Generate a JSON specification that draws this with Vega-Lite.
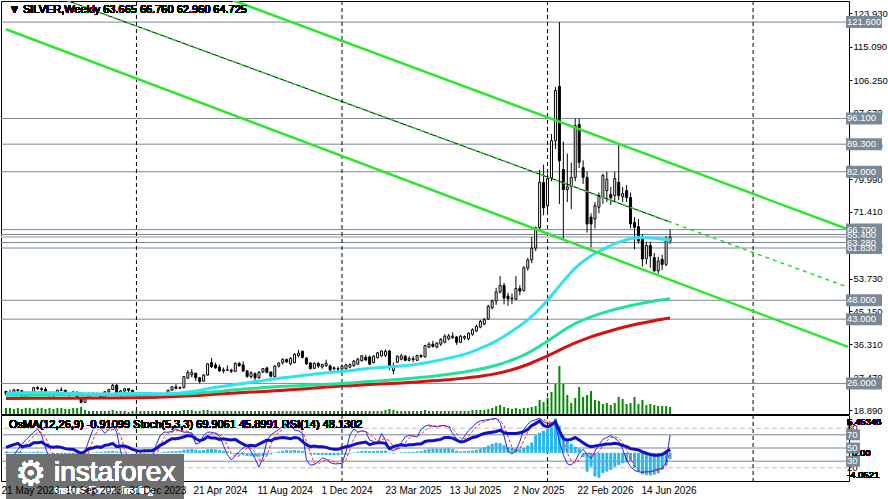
{
  "$schema": "https://vega.github.io/schema/vega-lite/v6.json",
  "background": "white",
  "padding": 0,
  "spacing": 1,
  "bounds": "flush",
  "config": {
    "view": {"stroke": "black", "strokeWidth": 1},
    "font": "Liberation Sans",
    "text": {"font": "Liberation Sans"}
  },
  "datasets": {
    "w": [
      {"d":"2023-05-21","o":23.9,"h":24.0,"l":22.7,"c":23.3,"vol":6,"osma":0.1,"k":40,"sd":45,"rsi":51},
      {"d":"2023-05-28","o":23.3,"h":24.3,"l":22.9,"c":23.6,"vol":6,"osma":0.15,"k":35,"sd":40,"rsi":53},
      {"d":"2023-06-04","o":23.6,"h":24.5,"l":23.2,"c":24.3,"vol":5,"osma":0.2,"k":38,"sd":38,"rsi":55},
      {"d":"2023-06-11","o":24.3,"h":24.5,"l":23.5,"c":24.1,"vol":6,"osma":0.2,"k":48,"sd":40,"rsi":57},
      {"d":"2023-06-18","o":24.1,"h":24.2,"l":22.2,"c":22.6,"vol":5,"osma":0.15,"k":55,"sd":47,"rsi":52},
      {"d":"2023-06-25","o":22.6,"h":23.3,"l":22.1,"c":22.8,"vol":6,"osma":0.1,"k":62,"sd":55,"rsi":53},
      {"d":"2023-07-02","o":22.8,"h":23.3,"l":22.5,"c":23.1,"vol":6,"osma":0.1,"k":68,"sd":62,"rsi":54},
      {"d":"2023-07-09","o":23.1,"h":25.0,"l":22.8,"c":24.9,"vol":5,"osma":0.15,"k":74,"sd":68,"rsi":58},
      {"d":"2023-07-16","o":24.9,"h":25.3,"l":24.3,"c":24.6,"vol":6,"osma":0.2,"k":79,"sd":74,"rsi":58},
      {"d":"2023-07-23","o":24.6,"h":25.0,"l":23.8,"c":24.4,"vol":6,"osma":0.15,"k":70,"sd":74,"rsi":59},
      {"d":"2023-07-30","o":24.4,"h":25.0,"l":23.3,"c":23.6,"vol":5,"osma":0.05,"k":50,"sd":66,"rsi":55},
      {"d":"2023-08-06","o":23.6,"h":23.8,"l":22.6,"c":22.7,"vol":6,"osma":-0.1,"k":35,"sd":52,"rsi":52},
      {"d":"2023-08-13","o":22.7,"h":22.9,"l":22.2,"c":22.8,"vol":5,"osma":-0.2,"k":28,"sd":38,"rsi":51},
      {"d":"2023-08-20","o":22.8,"h":24.3,"l":22.8,"c":24.2,"vol":6,"osma":-0.2,"k":26,"sd":30,"rsi":52},
      {"d":"2023-08-27","o":24.2,"h":25.0,"l":24.0,"c":24.2,"vol":6,"osma":-0.15,"k":38,"sd":31,"rsi":51},
      {"d":"2023-09-03","o":24.2,"h":24.3,"l":22.8,"c":23.0,"vol":5,"osma":-0.2,"k":36,"sd":33,"rsi":49},
      {"d":"2023-09-10","o":23.0,"h":23.2,"l":22.3,"c":23.0,"vol":5,"osma":-0.2,"k":32,"sd":35,"rsi":48},
      {"d":"2023-09-17","o":23.0,"h":24.0,"l":23.0,"c":23.7,"vol":6,"osma":-0.25,"k":24,"sd":31,"rsi":48},
      {"d":"2023-09-24","o":23.7,"h":23.8,"l":22.1,"c":22.3,"vol":6,"osma":-0.3,"k":22,"sd":26,"rsi":45},
      {"d":"2023-10-01","o":22.3,"h":22.4,"l":20.7,"c":21.0,"vol":7,"osma":-0.35,"k":28,"sd":25,"rsi":42},
      {"d":"2023-10-08","o":21.0,"h":22.5,"l":21.0,"c":22.2,"vol":4,"osma":-0.25,"k":45,"sd":32,"rsi":45},
      {"d":"2023-10-15","o":22.2,"h":23.4,"l":21.9,"c":23.4,"vol":3,"osma":-0.1,"k":62,"sd":45,"rsi":49},
      {"d":"2023-10-22","o":23.4,"h":23.5,"l":22.6,"c":22.9,"vol":3,"osma":0.05,"k":78,"sd":62,"rsi":50},
      {"d":"2023-10-29","o":22.9,"h":23.6,"l":22.8,"c":23.3,"vol":3,"osma":0.15,"k":84,"sd":75,"rsi":52},
      {"d":"2023-11-05","o":23.3,"h":23.5,"l":22.0,"c":22.3,"vol":3,"osma":0.15,"k":80,"sd":81,"rsi":51},
      {"d":"2023-11-12","o":22.3,"h":23.9,"l":22.0,"c":23.8,"vol":3,"osma":0.2,"k":72,"sd":79,"rsi":54},
      {"d":"2023-11-19","o":23.8,"h":24.5,"l":23.3,"c":24.4,"vol":3,"osma":0.25,"k":78,"sd":77,"rsi":55},
      {"d":"2023-11-26","o":24.4,"h":25.9,"l":24.3,"c":25.5,"vol":4,"osma":0.3,"k":85,"sd":78,"rsi":57},
      {"d":"2023-12-03","o":25.5,"h":25.9,"l":22.9,"c":23.0,"vol":3,"osma":0.2,"k":74,"sd":79,"rsi":52},
      {"d":"2023-12-10","o":23.0,"h":24.3,"l":22.5,"c":24.0,"vol":3,"osma":0.15,"k":45,"sd":68,"rsi":53},
      {"d":"2023-12-17","o":24.0,"h":24.7,"l":23.6,"c":24.6,"vol":3,"osma":0.1,"k":29,"sd":49,"rsi":53},
      {"d":"2023-12-24","o":24.6,"h":24.6,"l":23.7,"c":24.2,"vol":2,"osma":0.05,"k":28,"sd":34,"rsi":51},
      {"d":"2023-12-31","o":24.2,"h":24.2,"l":22.7,"c":23.0,"vol":3,"osma":-0.05,"k":30,"sd":29,"rsi":48},
      {"d":"2024-01-07","o":23.0,"h":23.4,"l":22.5,"c":23.2,"vol":3,"osma":-0.1,"k":33,"sd":30,"rsi":46},
      {"d":"2024-01-14","o":23.2,"h":23.3,"l":22.2,"c":22.6,"vol":3,"osma":-0.15,"k":28,"sd":30,"rsi":45},
      {"d":"2024-01-21","o":22.6,"h":23.2,"l":22.5,"c":22.8,"vol":3,"osma":-0.15,"k":24,"sd":28,"rsi":46},
      {"d":"2024-01-28","o":22.8,"h":23.3,"l":22.7,"c":22.8,"vol":3,"osma":-0.1,"k":26,"sd":26,"rsi":46},
      {"d":"2024-02-04","o":22.8,"h":22.9,"l":22.0,"c":22.3,"vol":3,"osma":-0.1,"k":34,"sd":28,"rsi":46},
      {"d":"2024-02-11","o":22.3,"h":23.4,"l":21.9,"c":23.4,"vol":3,"osma":-0.05,"k":55,"sd":38,"rsi":49},
      {"d":"2024-02-18","o":23.4,"h":23.5,"l":22.6,"c":23.0,"vol":3,"osma":0.05,"k":69,"sd":53,"rsi":54},
      {"d":"2024-02-25","o":23.0,"h":23.2,"l":22.3,"c":23.3,"vol":3,"osma":0.15,"k":74,"sd":66,"rsi":57},
      {"d":"2024-03-03","o":23.3,"h":24.3,"l":23.1,"c":24.2,"vol":3,"osma":0.2,"k":74,"sd":72,"rsi":61},
      {"d":"2024-03-10","o":24.2,"h":25.3,"l":24.1,"c":25.1,"vol":3,"osma":0.25,"k":75,"sd":74,"rsi":64},
      {"d":"2024-03-17","o":25.1,"h":25.8,"l":24.4,"c":24.7,"vol":3,"osma":0.25,"k":79,"sd":76,"rsi":64},
      {"d":"2024-03-24","o":24.7,"h":25.2,"l":24.5,"c":24.9,"vol":3,"osma":0.3,"k":76,"sd":77,"rsi":65},
      {"d":"2024-03-31","o":24.9,"h":27.9,"l":24.7,"c":27.8,"vol":4,"osma":0.45,"k":74,"sd":76,"rsi":67},
      {"d":"2024-04-07","o":27.4,"h":29.5,"l":27.2,"c":28.9,"vol":4,"osma":0.5,"k":74,"sd":75,"rsi":69},
      {"d":"2024-04-14","o":28.3,"h":29.8,"l":27.6,"c":28.9,"vol":4,"osma":0.55,"k":72,"sd":73,"rsi":68},
      {"d":"2024-04-21","o":28.7,"h":28.8,"l":26.7,"c":27.5,"vol":3,"osma":0.45,"k":56,"sd":67,"rsi":64},
      {"d":"2024-04-28","o":27.5,"h":27.7,"l":26.0,"c":26.5,"vol":3,"osma":0.35,"k":58,"sd":62,"rsi":61},
      {"d":"2024-05-05","o":26.6,"h":28.5,"l":26.4,"c":28.2,"vol":4,"osma":0.4,"k":69,"sd":61,"rsi":63},
      {"d":"2024-05-12","o":28.2,"h":31.4,"l":28.1,"c":31.2,"vol":4,"osma":0.55,"k":74,"sd":67,"rsi":67},
      {"d":"2024-05-19","o":31.5,"h":32.7,"l":30.1,"c":30.4,"vol":3,"osma":0.55,"k":74,"sd":72,"rsi":65},
      {"d":"2024-05-26","o":30.9,"h":31.5,"l":29.9,"c":30.1,"vol":3,"osma":0.5,"k":72,"sd":73,"rsi":65},
      {"d":"2024-06-02","o":30.3,"h":31.0,"l":29.1,"c":29.3,"vol":3,"osma":0.4,"k":68,"sd":71,"rsi":63},
      {"d":"2024-06-09","o":29.3,"h":30.2,"l":28.7,"c":29.6,"vol":3,"osma":0.3,"k":54,"sd":65,"rsi":64},
      {"d":"2024-06-16","o":29.6,"h":30.8,"l":29.3,"c":29.5,"vol":3,"osma":0.2,"k":40,"sd":54,"rsi":63},
      {"d":"2024-06-23","o":29.5,"h":29.9,"l":28.8,"c":29.2,"vol":3,"osma":-0.1,"k":32,"sd":42,"rsi":62},
      {"d":"2024-06-30","o":29.2,"h":31.6,"l":29.0,"c":31.3,"vol":3,"osma":-0.2,"k":38,"sd":37,"rsi":63},
      {"d":"2024-07-07","o":31.3,"h":31.7,"l":30.4,"c":30.7,"vol":3,"osma":-0.25,"k":45,"sd":38,"rsi":59},
      {"d":"2024-07-14","o":30.9,"h":31.8,"l":29.0,"c":29.3,"vol":3,"osma":-0.35,"k":50,"sd":44,"rsi":56},
      {"d":"2024-07-21","o":29.3,"h":29.6,"l":27.5,"c":27.8,"vol":3,"osma":-0.45,"k":54,"sd":50,"rsi":53},
      {"d":"2024-07-28","o":27.8,"h":29.2,"l":27.3,"c":28.8,"vol":3,"osma":-0.5,"k":45,"sd":50,"rsi":54},
      {"d":"2024-08-04","o":28.6,"h":28.9,"l":26.6,"c":27.5,"vol":3,"osma":-0.55,"k":34,"sd":44,"rsi":53},
      {"d":"2024-08-11","o":27.5,"h":29.2,"l":27.2,"c":29.0,"vol":3,"osma":-0.55,"k":21,"sd":33,"rsi":56},
      {"d":"2024-08-18","o":29.0,"h":30.1,"l":28.8,"c":29.9,"vol":3,"osma":-0.45,"k":35,"sd":30,"rsi":59},
      {"d":"2024-08-25","o":30.1,"h":30.4,"l":28.7,"c":28.9,"vol":3,"osma":-0.35,"k":60,"sd":39,"rsi":62},
      {"d":"2024-09-01","o":29.0,"h":29.2,"l":27.6,"c":27.9,"vol":3,"osma":-0.2,"k":70,"sd":55,"rsi":61},
      {"d":"2024-09-08","o":27.8,"h":30.8,"l":27.6,"c":30.6,"vol":3,"osma":0.05,"k":74,"sd":68,"rsi":64},
      {"d":"2024-09-15","o":30.6,"h":31.6,"l":30.2,"c":31.4,"vol":3,"osma":0.2,"k":78,"sd":74,"rsi":65},
      {"d":"2024-09-22","o":31.5,"h":32.7,"l":31.0,"c":32.3,"vol":3,"osma":0.3,"k":83,"sd":78,"rsi":66},
      {"d":"2024-09-29","o":32.3,"h":32.6,"l":31.4,"c":31.7,"vol":3,"osma":0.4,"k":89,"sd":83,"rsi":65},
      {"d":"2024-10-06","o":31.2,"h":33.0,"l":30.8,"c":32.6,"vol":3,"osma":0.35,"k":86,"sd":86,"rsi":64},
      {"d":"2024-10-13","o":31.5,"h":34.0,"l":31.3,"c":33.7,"vol":3,"osma":0.4,"k":77,"sd":84,"rsi":66},
      {"d":"2024-10-20","o":33.4,"h":34.9,"l":32.9,"c":34.0,"vol":3,"osma":0.35,"k":76,"sd":80,"rsi":65},
      {"d":"2024-10-27","o":34.5,"h":34.7,"l":32.6,"c":32.9,"vol":3,"osma":0.25,"k":72,"sd":75,"rsi":60},
      {"d":"2024-11-03","o":32.7,"h":33.0,"l":30.9,"c":31.2,"vol":3,"osma":0.05,"k":32,"sd":60,"rsi":55},
      {"d":"2024-11-10","o":31.4,"h":31.6,"l":29.7,"c":29.9,"vol":3,"osma":-0.15,"k":24,"sd":43,"rsi":52},
      {"d":"2024-11-17","o":30.0,"h":31.6,"l":29.8,"c":31.3,"vol":3,"osma":-0.25,"k":25,"sd":27,"rsi":53},
      {"d":"2024-11-24","o":31.3,"h":31.6,"l":30.1,"c":30.6,"vol":3,"osma":-0.3,"k":29,"sd":26,"rsi":52},
      {"d":"2024-12-01","o":30.4,"h":31.2,"l":29.9,"c":31.0,"vol":3,"osma":-0.3,"k":35,"sd":30,"rsi":52},
      {"d":"2024-12-08","o":30.7,"h":32.3,"l":30.4,"c":31.3,"vol":3,"osma":-0.3,"k":33,"sd":32,"rsi":51},
      {"d":"2024-12-15","o":30.6,"h":31.0,"l":29.2,"c":29.6,"vol":3,"osma":-0.35,"k":28,"sd":32,"rsi":49},
      {"d":"2024-12-22","o":30.1,"h":30.5,"l":29.4,"c":29.9,"vol":3,"osma":-0.35,"k":26,"sd":29,"rsi":48},
      {"d":"2024-12-29","o":29.9,"h":30.5,"l":29.0,"c":29.8,"vol":3,"osma":-0.35,"k":26,"sd":27,"rsi":48},
      {"d":"2025-01-05","o":29.8,"h":31.0,"l":29.5,"c":30.6,"vol":3,"osma":-0.3,"k":27,"sd":26,"rsi":50},
      {"d":"2025-01-12","o":29.9,"h":31.2,"l":29.6,"c":30.9,"vol":3,"osma":-0.25,"k":44,"sd":32,"rsi":52},
      {"d":"2025-01-19","o":30.3,"h":31.3,"l":30.0,"c":31.0,"vol":3,"osma":-0.1,"k":70,"sd":47,"rsi":53},
      {"d":"2025-01-26","o":30.7,"h":32.2,"l":30.4,"c":31.9,"vol":3,"osma":0.05,"k":79,"sd":64,"rsi":55},
      {"d":"2025-02-02","o":31.1,"h":32.8,"l":31.0,"c":32.4,"vol":3,"osma":0.15,"k":74,"sd":74,"rsi":57},
      {"d":"2025-02-09","o":32.0,"h":33.5,"l":31.8,"c":33.3,"vol":3,"osma":0.25,"k":76,"sd":76,"rsi":58},
      {"d":"2025-02-16","o":32.9,"h":33.6,"l":32.0,"c":32.2,"vol":3,"osma":0.3,"k":75,"sd":75,"rsi":59},
      {"d":"2025-02-23","o":33.0,"h":33.4,"l":30.9,"c":31.1,"vol":3,"osma":0.25,"k":62,"sd":71,"rsi":55},
      {"d":"2025-03-02","o":31.5,"h":33.5,"l":31.3,"c":33.2,"vol":3,"osma":0.25,"k":60,"sd":66,"rsi":57},
      {"d":"2025-03-09","o":32.8,"h":34.3,"l":32.6,"c":34.1,"vol":3,"osma":0.3,"k":57,"sd":60,"rsi":58},
      {"d":"2025-03-16","o":33.3,"h":34.8,"l":33.1,"c":34.6,"vol":3,"osma":0.3,"k":72,"sd":63,"rsi":58},
      {"d":"2025-03-23","o":33.4,"h":35.0,"l":33.0,"c":34.5,"vol":4,"osma":0.3,"k":62,"sd":64,"rsi":57},
      {"d":"2025-03-30","o":34.6,"h":34.8,"l":29.5,"c":30.6,"vol":5,"osma":-0.05,"k":48,"sd":61,"rsi":49},
      {"d":"2025-04-06","o":29.4,"h":31.5,"l":28.4,"c":30.6,"vol":4,"osma":-0.1,"k":46,"sd":52,"rsi":52},
      {"d":"2025-04-13","o":31.6,"h":33.4,"l":31.4,"c":33.2,"vol":3,"osma":0.0,"k":49,"sd":48,"rsi":54},
      {"d":"2025-04-20","o":32.4,"h":33.8,"l":32.1,"c":33.3,"vol":3,"osma":0.1,"k":58,"sd":51,"rsi":55},
      {"d":"2025-04-27","o":33.2,"h":33.5,"l":31.9,"c":32.1,"vol":3,"osma":0.1,"k":67,"sd":58,"rsi":54},
      {"d":"2025-05-04","o":32.1,"h":33.2,"l":31.8,"c":32.6,"vol":3,"osma":0.15,"k":69,"sd":65,"rsi":55},
      {"d":"2025-05-11","o":32.5,"h":33.2,"l":31.6,"c":32.3,"vol":3,"osma":0.15,"k":68,"sd":68,"rsi":55},
      {"d":"2025-05-18","o":32.1,"h":33.6,"l":31.9,"c":33.4,"vol":3,"osma":0.2,"k":67,"sd":68,"rsi":56},
      {"d":"2025-05-25","o":33.4,"h":33.7,"l":32.7,"c":33.1,"vol":3,"osma":0.25,"k":78,"sd":71,"rsi":56},
      {"d":"2025-06-01","o":33.0,"h":36.2,"l":32.9,"c":36.0,"vol":4,"osma":0.45,"k":83,"sd":76,"rsi":60},
      {"d":"2025-06-08","o":35.6,"h":36.9,"l":35.3,"c":36.4,"vol":3,"osma":0.55,"k":85,"sd":82,"rsi":61},
      {"d":"2025-06-15","o":36.4,"h":37.3,"l":35.5,"c":35.8,"vol":3,"osma":0.6,"k":83,"sd":84,"rsi":61},
      {"d":"2025-06-22","o":35.6,"h":36.9,"l":35.3,"c":36.7,"vol":3,"osma":0.6,"k":82,"sd":83,"rsi":62},
      {"d":"2025-06-29","o":36.4,"h":38.0,"l":35.9,"c":37.6,"vol":3,"osma":0.6,"k":84,"sd":83,"rsi":63},
      {"d":"2025-07-06","o":36.9,"h":39.0,"l":36.6,"c":38.5,"vol":3,"osma":0.65,"k":84,"sd":83,"rsi":66},
      {"d":"2025-07-13","o":37.8,"h":39.1,"l":37.4,"c":38.6,"vol":3,"osma":0.65,"k":82,"sd":83,"rsi":66},
      {"d":"2025-07-20","o":38.1,"h":39.5,"l":37.8,"c":38.5,"vol":3,"osma":0.55,"k":72,"sd":79,"rsi":65},
      {"d":"2025-07-27","o":38.3,"h":38.5,"l":36.2,"c":36.9,"vol":3,"osma":0.3,"k":64,"sd":72,"rsi":62},
      {"d":"2025-08-03","o":36.9,"h":38.8,"l":36.7,"c":38.5,"vol":3,"osma":0.2,"k":59,"sd":65,"rsi":59},
      {"d":"2025-08-10","o":38.0,"h":38.7,"l":37.5,"c":38.4,"vol":3,"osma":0.25,"k":68,"sd":64,"rsi":60},
      {"d":"2025-08-17","o":37.8,"h":39.5,"l":37.4,"c":39.3,"vol":3,"osma":0.3,"k":76,"sd":68,"rsi":63},
      {"d":"2025-08-24","o":39.0,"h":40.6,"l":38.6,"c":40.2,"vol":4,"osma":0.35,"k":82,"sd":75,"rsi":66},
      {"d":"2025-08-31","o":39.9,"h":41.5,"l":39.6,"c":41.1,"vol":4,"osma":0.45,"k":88,"sd":82,"rsi":67},
      {"d":"2025-09-07","o":40.9,"h":42.8,"l":40.6,"c":42.4,"vol":4,"osma":0.6,"k":91,"sd":87,"rsi":70},
      {"d":"2025-09-14","o":41.7,"h":43.3,"l":41.4,"c":42.9,"vol":4,"osma":0.8,"k":92,"sd":90,"rsi":72},
      {"d":"2025-09-21","o":43.0,"h":46.8,"l":42.8,"c":46.4,"vol":5,"osma":1.05,"k":93,"sd":92,"rsi":73},
      {"d":"2025-09-28","o":46.0,"h":48.2,"l":45.6,"c":47.8,"vol":6,"osma":1.3,"k":94,"sd":93,"rsi":74},
      {"d":"2025-10-05","o":47.8,"h":51.3,"l":46.8,"c":50.2,"vol":8,"osma":1.45,"k":95,"sd":94,"rsi":75},
      {"d":"2025-10-12","o":50.2,"h":54.4,"l":49.8,"c":51.9,"vol":9,"osma":1.4,"k":88,"sd":92,"rsi":77},
      {"d":"2025-10-19","o":51.9,"h":52.6,"l":46.9,"c":48.6,"vol":7,"osma":1.1,"k":68,"sd":84,"rsi":73},
      {"d":"2025-10-26","o":49.1,"h":50.0,"l":46.5,"c":48.4,"vol":6,"osma":0.85,"k":45,"sd":67,"rsi":72},
      {"d":"2025-11-02","o":48.4,"h":49.8,"l":47.0,"c":48.6,"vol":5,"osma":0.75,"k":41,"sd":51,"rsi":72},
      {"d":"2025-11-09","o":48.3,"h":54.4,"l":48.0,"c":51.1,"vol":6,"osma":0.55,"k":46,"sd":44,"rsi":72},
      {"d":"2025-11-16","o":51.1,"h":52.0,"l":49.3,"c":50.4,"vol":5,"osma":0.5,"k":60,"sd":49,"rsi":73},
      {"d":"2025-11-23","o":50.6,"h":57.0,"l":50.3,"c":56.6,"vol":6,"osma":0.7,"k":78,"sd":61,"rsi":75},
      {"d":"2025-11-30","o":56.5,"h":59.2,"l":55.8,"c":58.7,"vol":6,"osma":1.05,"k":86,"sd":75,"rsi":78},
      {"d":"2025-12-07","o":58.7,"h":64.7,"l":57.8,"c":61.8,"vol":7,"osma":1.5,"k":91,"sd":85,"rsi":84},
      {"d":"2025-12-14","o":61.8,"h":67.5,"l":61.0,"c":67.2,"vol":8,"osma":2.5,"k":93,"sd":90,"rsi":87},
      {"d":"2025-12-21","o":67.2,"h":82.5,"l":66.8,"c":79.2,"vol":14,"osma":2.9,"k":95,"sd":93,"rsi":91},
      {"d":"2025-12-28","o":79.2,"h":83.9,"l":70.5,"c":72.5,"vol":12,"osma":3.2,"k":90,"sd":93,"rsi":84},
      {"d":"2026-01-04","o":73.0,"h":81.5,"l":71.0,"c":80.2,"vol":16,"osma":3.45,"k":87,"sd":91,"rsi":82},
      {"d":"2026-01-11","o":80.4,"h":92.0,"l":79.5,"c":90.2,"vol":22,"osma":3.7,"k":88,"sd":88,"rsi":85},
      {"d":"2026-01-18","o":90.2,"h":104.4,"l":88.0,"c":103.5,"vol":30,"osma":4.95,"k":86,"sd":87,"rsi":90},
      {"d":"2026-01-25","o":104.6,"h":121.6,"l":73.5,"c":84.9,"vol":48,"osma":3.9,"k":60,"sd":78,"rsi":76},
      {"d":"2026-02-01","o":82.6,"h":90.0,"l":64.0,"c":77.3,"vol":30,"osma":2.5,"k":40,"sd":62,"rsi":64},
      {"d":"2026-02-08","o":77.3,"h":86.8,"l":74.0,"c":78.0,"vol":19,"osma":1.8,"k":26,"sd":42,"rsi":62},
      {"d":"2026-02-15","o":78.0,"h":84.4,"l":72.1,"c":80.5,"vol":11,"osma":1.3,"k":24,"sd":30,"rsi":63},
      {"d":"2026-02-22","o":80.5,"h":96.1,"l":79.5,"c":94.2,"vol":16,"osma":0.9,"k":30,"sd":27,"rsi":66},
      {"d":"2026-03-01","o":94.5,"h":96.1,"l":83.0,"c":84.5,"vol":27,"osma":0.6,"k":42,"sd":32,"rsi":62},
      {"d":"2026-03-08","o":83.1,"h":85.0,"l":78.8,"c":80.5,"vol":17,"osma":-0.6,"k":48,"sd":40,"rsi":58},
      {"d":"2026-03-15","o":80.5,"h":82.0,"l":65.9,"c":68.2,"vol":19,"osma":-2.7,"k":40,"sd":43,"rsi":54},
      {"d":"2026-03-22","o":70.0,"h":71.0,"l":62.0,"c":68.2,"vol":23,"osma":-2.0,"k":34,"sd":41,"rsi":52},
      {"d":"2026-03-29","o":69.5,"h":74.0,"l":67.0,"c":73.0,"vol":14,"osma":-3.4,"k":45,"sd":40,"rsi":53},
      {"d":"2026-04-05","o":72.6,"h":76.5,"l":71.0,"c":75.7,"vol":13,"osma":-3.6,"k":55,"sd":45,"rsi":54},
      {"d":"2026-04-12","o":75.2,"h":81.5,"l":73.5,"c":81.0,"vol":10,"osma":-2.9,"k":63,"sd":54,"rsi":55},
      {"d":"2026-04-19","o":77.0,"h":82.0,"l":74.0,"c":80.0,"vol":11,"osma":-2.7,"k":66,"sd":61,"rsi":56},
      {"d":"2026-04-26","o":76.0,"h":78.0,"l":73.2,"c":75.1,"vol":9,"osma":-2.45,"k":69,"sd":66,"rsi":56},
      {"d":"2026-05-03","o":75.7,"h":82.0,"l":74.0,"c":80.2,"vol":11,"osma":-2.0,"k":65,"sd":67,"rsi":57},
      {"d":"2026-05-10","o":79.2,"h":89.3,"l":74.5,"c":75.7,"vol":17,"osma":-1.75,"k":60,"sd":65,"rsi":56},
      {"d":"2026-05-17","o":75.4,"h":78.0,"l":74.0,"c":76.2,"vol":15,"osma":-1.5,"k":48,"sd":58,"rsi":54},
      {"d":"2026-05-24","o":77.0,"h":78.5,"l":74.0,"c":75.2,"vol":10,"osma":-1.4,"k":32,"sd":47,"rsi":52},
      {"d":"2026-05-31","o":75.2,"h":76.5,"l":67.0,"c":68.2,"vol":11,"osma":-1.3,"k":22,"sd":34,"rsi":49},
      {"d":"2026-06-07","o":68.6,"h":70.0,"l":61.5,"c":67.3,"vol":17,"osma":-2.2,"k":16,"sd":23,"rsi":48},
      {"d":"2026-06-14","o":67.5,"h":69.5,"l":63.0,"c":63.7,"vol":10,"osma":-2.7,"k":14,"sd":17,"rsi":47},
      {"d":"2026-06-21","o":64.6,"h":65.5,"l":56.9,"c":58.9,"vol":14,"osma":-3.1,"k":13,"sd":14,"rsi":44},
      {"d":"2026-06-28","o":59.0,"h":63.5,"l":57.5,"c":62.5,"vol":9,"osma":-3.2,"k":14,"sd":14,"rsi":42},
      {"d":"2026-07-05","o":62.5,"h":63.5,"l":56.6,"c":59.7,"vol":10,"osma":-3.25,"k":14,"sd":14,"rsi":40},
      {"d":"2026-07-12","o":59.3,"h":60.5,"l":55.5,"c":55.8,"vol":9,"osma":-3.15,"k":16,"sd":15,"rsi":39},
      {"d":"2026-07-19","o":55.8,"h":59.5,"l":55.0,"c":58.4,"vol":8,"osma":-2.95,"k":18,"sd":16,"rsi":39},
      {"d":"2026-07-26","o":58.8,"h":60.0,"l":56.0,"c":57.5,"vol":8,"osma":-2.4,"k":19,"sd":18,"rsi":40},
      {"d":"2026-08-02","o":57.5,"h":65.0,"l":57.0,"c":63.7,"vol":8,"osma":-1.75,"k":28,"sd":22,"rsi":44},
      {"d":"2026-08-09","o":63.665,"h":66.76,"l":62.96,"c":64.725,"vol":7,"osma":-0.911,"k":69.91,"sd":45.9,"rsi":48.13}
    ],
    "ma": [
      {"d":"2023-05-21","fast":23.3,"mid":22.9,"slow":22.0},
      {"d":"2023-07-16","fast":23.6,"mid":22.9,"slow":22.05},
      {"d":"2023-09-10","fast":23.4,"mid":23.0,"slow":22.1},
      {"d":"2023-11-05","fast":23.2,"mid":23.0,"slow":22.15},
      {"d":"2023-12-31","fast":23.4,"mid":23.0,"slow":22.2},
      {"d":"2024-02-25","fast":23.3,"mid":23.1,"slow":22.4},
      {"d":"2024-03-24","fast":23.5,"mid":23.2,"slow":22.6},
      {"d":"2024-04-21","fast":24.0,"mid":23.4,"slow":22.8},
      {"d":"2024-05-19","fast":24.8,"mid":23.7,"slow":23.1},
      {"d":"2024-06-16","fast":25.4,"mid":24.1,"slow":23.35},
      {"d":"2024-07-14","fast":26.0,"mid":24.5,"slow":23.6},
      {"d":"2024-08-11","fast":26.6,"mid":24.8,"slow":23.8},
      {"d":"2024-09-08","fast":27.2,"mid":25.1,"slow":24.05},
      {"d":"2024-10-06","fast":27.7,"mid":25.3,"slow":24.3},
      {"d":"2024-11-03","fast":28.2,"mid":25.5,"slow":24.6},
      {"d":"2024-12-01","fast":28.7,"mid":25.7,"slow":24.95},
      {"d":"2024-12-29","fast":29.1,"mid":25.9,"slow":25.25},
      {"d":"2025-01-26","fast":29.5,"mid":26.2,"slow":25.45},
      {"d":"2025-02-23","fast":30.0,"mid":26.5,"slow":25.7},
      {"d":"2025-03-23","fast":30.3,"mid":26.8,"slow":25.9},
      {"d":"2025-04-20","fast":30.6,"mid":27.1,"slow":26.1},
      {"d":"2025-05-18","fast":31.1,"mid":27.5,"slow":26.4},
      {"d":"2025-06-15","fast":31.8,"mid":27.9,"slow":26.7},
      {"d":"2025-07-13","fast":32.7,"mid":28.4,"slow":27.0},
      {"d":"2025-08-10","fast":33.7,"mid":29.0,"slow":27.4},
      {"d":"2025-09-07","fast":35.3,"mid":29.8,"slow":27.9},
      {"d":"2025-10-05","fast":37.2,"mid":30.8,"slow":28.6},
      {"d":"2025-11-02","fast":39.8,"mid":32.2,"slow":29.6},
      {"d":"2025-11-30","fast":42.8,"mid":34.0,"slow":31.0},
      {"d":"2025-12-28","fast":46.8,"mid":36.5,"slow":32.8},
      {"d":"2026-01-25","fast":51.8,"mid":39.3,"slow":34.8},
      {"d":"2026-02-22","fast":56.5,"mid":41.8,"slow":36.7},
      {"d":"2026-03-22","fast":59.8,"mid":43.6,"slow":38.3},
      {"d":"2026-04-19","fast":62.0,"mid":45.0,"slow":39.6},
      {"d":"2026-05-17","fast":63.7,"mid":46.1,"slow":40.8},
      {"d":"2026-06-14","fast":64.6,"mid":47.0,"slow":41.8},
      {"d":"2026-07-12","fast":64.4,"mid":47.8,"slow":42.6},
      {"d":"2026-08-09","fast":63.9,"mid":48.4,"slow":43.3}
    ],
    "lv": [
      {"p":121.6,"t":"121.600"},
      {"p":96.1,"t":"96.100"},
      {"p":89.3,"t":"89.300"},
      {"p":82.0,"t":"82.000"},
      {"p":66.7,"t":"66.700"},
      {"p":61.83,"t":"61.830"},
      {"p":65.4,"t":"65.400"},
      {"p":63.28,"t":"63.280"},
      {"p":48.0,"t":"48.000"},
      {"p":43.0,"t":"43.000"},
      {"p":26.0,"t":"26.000"}
    ],
    "sep": [
      {"d":"2024-01-07"},
      {"d":"2025-01-05"},
      {"d":"2026-01-04"},
      {"d":"2027-01-03"}
    ],
    "tl": [
      {"id":"up","d":"2024-05-08","p":130.1},
      {"id":"up","d":"2027-06-20","p":66.8},
      {"id":"lo","d":"2023-05-21","p":119.7},
      {"id":"lo","d":"2027-06-20","p":35.65},
      {"id":"mb","d":"2023-09-06","p":127.3},
      {"id":"mb","d":"2026-08-09","p":68.7},
      {"id":"mg","d":"2023-09-06","p":127.3},
      {"id":"mg","d":"2027-06-20","p":51.44}
    ]
  },
  "vconcat": [
    {
      "width": 848,
      "height": 413,
      "data": {"name": "w"},
      "resolve": {"scale": {"y": "independent"}},
      "layer": [
        {
          "mark": {"type": "bar", "size": 2, "color": "#008a00", "clip": true},
          "encoding": {
            "x": {"field": "d", "type": "temporal", "scale": {"type": "utc", "domain": [1684627200000, 1812844800000]}, "axis": null},
            "y": {"field": "vol", "type": "quantitative", "scale": {"domain": [0, 413], "nice": false}, "axis": null}
          }
        },
        {
          "data": {"name": "lv"},
          "mark": {"type": "rule", "color": "#7b8896", "strokeWidth": 1},
          "encoding": {
            "y": {"field": "p", "type": "quantitative", "scale": {"domain": [17.91, 127.18], "nice": false, "zero": false}, "axis": null}
          }
        },
        {
          "mark": {"type": "rule", "color": "#c8c8c8", "strokeWidth": 1},
          "encoding": {
            "y": {"datum": 64.725, "type": "quantitative", "scale": {"domain": [17.91, 127.18], "nice": false, "zero": false}, "axis": null}
          }
        },
        {
          "data": {"name": "sep"},
          "mark": {"type": "rule", "color": "black", "strokeWidth": 1, "strokeDash": [4, 3]},
          "encoding": {
            "x": {"field": "d", "type": "temporal", "scale": {"type": "utc", "domain": [1684627200000, 1812844800000]}, "axis": null}
          }
        },
        {
          "mark": {"type": "rule", "color": "black", "strokeWidth": 1, "clip": true},
          "encoding": {
            "x": {"field": "d", "type": "temporal", "scale": {"type": "utc", "domain": [1684627200000, 1812844800000]}, "axis": null},
            "y": {"field": "l", "type": "quantitative", "scale": {"domain": [17.91, 127.18], "nice": false, "zero": false},
              "axis": {"orient": "right", "values": [123.93, 115.09, 106.25, 97.67, 88.83, 79.99, 71.41, 62.57, 53.73, 45.15, 36.31, 27.47, 18.89], "format": ".3f", "tickSize": 3, "labelPadding": 1, "domain": false, "grid": false, "labelFontSize": 9.5, "labelFont": "Liberation Sans", "labelColor": "black", "tickColor": "black", "title": null, "labelOverlap": false, "labelBound": false}},
            "y2": {"field": "h"}
          }
        },
        {
          "mark": {"type": "bar", "size": 2, "stroke": "black", "strokeWidth": 1, "clip": true},
          "encoding": {
            "x": {"field": "d", "type": "temporal", "scale": {"type": "utc", "domain": [1684627200000, 1812844800000]}, "axis": null},
            "y": {"field": "o", "type": "quantitative", "scale": {"domain": [17.91, 127.18], "nice": false, "zero": false}, "axis": null},
            "y2": {"field": "c"},
            "fill": {"condition": {"test": "datum.c >= datum.o", "value": "white"}, "value": "black"}
          }
        },
        {
          "data": {"name": "ma"},
          "mark": {"type": "line", "color": "#d81010", "strokeWidth": 3, "interpolate": "monotone", "clip": true},
          "encoding": {
            "x": {"field": "d", "type": "temporal", "scale": {"type": "utc", "domain": [1684627200000, 1812844800000]}, "axis": null},
            "y": {"field": "slow", "type": "quantitative", "scale": {"domain": [17.91, 127.18], "nice": false, "zero": false}, "axis": null}
          }
        },
        {
          "data": {"name": "ma"},
          "mark": {"type": "line", "color": "#20e39a", "strokeWidth": 3, "interpolate": "monotone", "clip": true},
          "encoding": {
            "x": {"field": "d", "type": "temporal", "scale": {"type": "utc", "domain": [1684627200000, 1812844800000]}, "axis": null},
            "y": {"field": "mid", "type": "quantitative", "scale": {"domain": [17.91, 127.18], "nice": false, "zero": false}, "axis": null}
          }
        },
        {
          "data": {"name": "ma"},
          "mark": {"type": "line", "color": "#30e2f2", "strokeWidth": 3, "interpolate": "monotone", "clip": true},
          "encoding": {
            "x": {"field": "d", "type": "temporal", "scale": {"type": "utc", "domain": [1684627200000, 1812844800000]}, "axis": null},
            "y": {"field": "fast", "type": "quantitative", "scale": {"domain": [17.91, 127.18], "nice": false, "zero": false}, "axis": null}
          }
        },
        {
          "data": {"name": "tl"},
          "transform": [{"filter": "datum.id == 'mb'"}],
          "mark": {"type": "line", "color": "black", "strokeWidth": 1, "clip": true},
          "encoding": {
            "x": {"field": "d", "type": "temporal", "scale": {"type": "utc", "domain": [1684627200000, 1812844800000]}, "axis": null},
            "y": {"field": "p", "type": "quantitative", "scale": {"domain": [17.91, 127.18], "nice": false, "zero": false}, "axis": null}
          }
        },
        {
          "data": {"name": "tl"},
          "transform": [{"filter": "datum.id == 'mg'"}],
          "mark": {"type": "line", "color": "#22dd22", "strokeWidth": 1.5, "strokeDash": [4, 4], "clip": true},
          "encoding": {
            "x": {"field": "d", "type": "temporal", "scale": {"type": "utc", "domain": [1684627200000, 1812844800000]}, "axis": null},
            "y": {"field": "p", "type": "quantitative", "scale": {"domain": [17.91, 127.18], "nice": false, "zero": false}, "axis": null}
          }
        },
        {
          "data": {"name": "tl"},
          "transform": [{"filter": "datum.id == 'up' || datum.id == 'lo'"}],
          "mark": {"type": "line", "color": "#2ee62e", "strokeWidth": 2.5, "clip": true},
          "encoding": {
            "x": {"field": "d", "type": "temporal", "scale": {"type": "utc", "domain": [1684627200000, 1812844800000]}, "axis": null},
            "y": {"field": "p", "type": "quantitative", "scale": {"domain": [17.91, 127.18], "nice": false, "zero": false}, "axis": null},
            "detail": {"field": "id"}
          }
        },
        {
          "data": {"name": "lv"},
          "mark": {"type": "tick", "orient": "horizontal", "size": 36, "thickness": 12, "xOffset": 20, "color": "#7b8896", "opacity": 1},
          "encoding": {
            "x": {"datum": 1812844800000, "type": "temporal", "scale": {"type": "utc", "domain": [1684627200000, 1812844800000]}, "axis": null},
            "y": {"field": "p", "type": "quantitative", "scale": {"domain": [17.91, 127.18], "nice": false, "zero": false}, "axis": null}
          }
        },
        {
          "data": {"name": "lv"},
          "mark": {"type": "text", "align": "left", "baseline": "middle", "dx": 3, "fontSize": 9.5, "color": "white"},
          "encoding": {
            "x": {"datum": 1812844800000, "type": "temporal", "scale": {"type": "utc", "domain": [1684627200000, 1812844800000]}, "axis": null},
            "y": {"field": "p", "type": "quantitative", "scale": {"domain": [17.91, 127.18], "nice": false, "zero": false}, "axis": null},
            "text": {"field": "t"}
          }
        },
        {
          "mark": {"type": "text", "align": "left", "baseline": "top", "dx": 3, "dy": 3, "fontSize": 11, "color": "black"},
          "encoding": {
            "x": {"datum": 1684627200000, "type": "temporal", "scale": {"type": "utc", "domain": [1684627200000, 1812844800000]}, "axis": null},
            "y": {"datum": 127.18, "type": "quantitative", "scale": {"domain": [17.91, 127.18], "nice": false, "zero": false}, "axis": null},
            "text": {"value": "▼ SILVER,Weekly  63.665 66.760 62.960 64.725"}
          }
        }
      ]
    },
    {
      "width": 848,
      "height": 66,
      "data": {"name": "w"},
      "resolve": {"scale": {"y": "independent"}},
      "layer": [
        {
          "data": {"values": [{"v": 80}, {"v": 20}]},
          "mark": {"type": "rule", "color": "#bdbdbd", "strokeDash": [5, 3]},
          "encoding": {"y": {"field": "v", "type": "quantitative", "scale": {"domain": [0, 100], "nice": false}, "axis": null}}
        },
        {
          "data": {"values": [{"v": 70}, {"v": 50}, {"v": 30}]},
          "mark": {"type": "rule", "color": "#7b8896"},
          "encoding": {"y": {"field": "v", "type": "quantitative", "scale": {"domain": [0, 100], "nice": false}, "axis": null}}
        },
        {
          "data": {"name": "sep"},
          "mark": {"type": "rule", "color": "black", "strokeWidth": 1, "strokeDash": [4, 3]},
          "encoding": {
            "x": {"field": "d", "type": "temporal", "scale": {"type": "utc", "domain": [1684627200000, 1812844800000]}, "axis": null}
          }
        },
        {
          "mark": {"type": "bar", "size": 3, "color": "#2ab6ee", "clip": true},
          "encoding": {
            "x": {"field": "d", "type": "temporal", "scale": {"type": "utc", "domain": [1684627200000, 1812844800000]}, "axis": null},
            "y": {"field": "osma", "type": "quantitative", "scale": {"domain": [-4.0521, 5.45346], "nice": false}, "axis": null}
          }
        },
        {
          "mark": {"type": "line", "color": "#2020ff", "strokeWidth": 1, "clip": true},
          "encoding": {
            "x": {"field": "d", "type": "temporal", "scale": {"type": "utc", "domain": [1684627200000, 1812844800000]}, "axis": null},
            "y": {"field": "k", "type": "quantitative", "scale": {"domain": [0, 100], "nice": false}, "axis": null}
          }
        },
        {
          "mark": {"type": "line", "color": "#ff2020", "strokeWidth": 1, "strokeDash": [3, 2], "clip": true},
          "encoding": {
            "x": {"field": "d", "type": "temporal", "scale": {"type": "utc", "domain": [1684627200000, 1812844800000]}, "axis": null},
            "y": {"field": "sd", "type": "quantitative", "scale": {"domain": [0, 100], "nice": false}, "axis": null}
          }
        },
        {
          "mark": {"type": "line", "color": "#1010c8", "strokeWidth": 3, "clip": true},
          "encoding": {
            "x": {"field": "d", "type": "temporal", "scale": {"type": "utc", "domain": [1684627200000, 1812844800000]}, "axis": null},
            "y": {"field": "rsi", "type": "quantitative", "scale": {"domain": [0, 100], "nice": false}, "axis": null}
          }
        },
        {
          "data": {"values": [{"v": 80, "t": "80"}, {"v": 20, "t": "20"}]},
          "mark": {"type": "text", "align": "left", "baseline": "middle", "dx": 3, "fontSize": 9.5, "color": "black"},
          "encoding": {
            "x": {"datum": 1812844800000, "type": "temporal", "scale": {"type": "utc", "domain": [1684627200000, 1812844800000]}, "axis": null},
            "y": {"field": "v", "type": "quantitative", "scale": {"domain": [0, 100], "nice": false}, "axis": null},
            "text": {"field": "t"}
          }
        },
        {
          "mark": {"type": "text", "align": "left", "baseline": "top", "dx": 3, "dy": 2, "fontSize": 9.5, "color": "black"},
          "encoding": {
            "x": {"datum": 1812844800000, "type": "temporal", "scale": {"type": "utc", "domain": [1684627200000, 1812844800000]}, "axis": null},
            "y": {"datum": 5.45346, "type": "quantitative", "scale": {"domain": [-4.0521, 5.45346], "nice": false}, "axis": null},
            "text": {"value": "5.45346"}
          }
        },
        {
          "mark": {"type": "text", "align": "left", "baseline": "middle", "dx": 8, "fontSize": 9.5, "color": "black"},
          "encoding": {
            "x": {"datum": 1812844800000, "type": "temporal", "scale": {"type": "utc", "domain": [1684627200000, 1812844800000]}, "axis": null},
            "y": {"datum": 0, "type": "quantitative", "scale": {"domain": [-4.0521, 5.45346], "nice": false}, "axis": null},
            "text": {"value": "0.00"}
          }
        },
        {
          "mark": {"type": "text", "align": "left", "baseline": "bottom", "dx": 3, "dy": -1, "fontSize": 9.5, "color": "black"},
          "encoding": {
            "x": {"datum": 1812844800000, "type": "temporal", "scale": {"type": "utc", "domain": [1684627200000, 1812844800000]}, "axis": null},
            "y": {"datum": -4.0521, "type": "quantitative", "scale": {"domain": [-4.0521, 5.45346], "nice": false}, "axis": null},
            "text": {"value": "-4.0521"}
          }
        },
        {
          "data": {"values": [{"v": 70, "t": "70"}, {"v": 50, "t": "50"}, {"v": 30, "t": "30"}]},
          "layer": [
            {
              "mark": {"type": "tick", "orient": "horizontal", "size": 14, "thickness": 11, "xOffset": 9, "color": "#7b8896", "opacity": 1},
              "encoding": {
                "x": {"datum": 1812844800000, "type": "temporal", "scale": {"type": "utc", "domain": [1684627200000, 1812844800000]}, "axis": null},
                "y": {"field": "v", "type": "quantitative", "scale": {"domain": [0, 100], "nice": false}, "axis": null}
              }
            },
            {
              "mark": {"type": "text", "align": "left", "baseline": "middle", "dx": 3, "fontSize": 9.5, "color": "white"},
              "encoding": {
                "x": {"datum": 1812844800000, "type": "temporal", "scale": {"type": "utc", "domain": [1684627200000, 1812844800000]}, "axis": null},
                "y": {"field": "v", "type": "quantitative", "scale": {"domain": [0, 100], "nice": false}, "axis": null},
                "text": {"field": "t"}
              }
            }
          ]
        },
        {
          "mark": {"type": "text", "align": "left", "baseline": "top", "dx": 3, "dy": 4, "fontSize": 11, "color": "black"},
          "encoding": {
            "x": {"datum": 1684627200000, "type": "temporal", "scale": {"type": "utc", "domain": [1684627200000, 1812844800000]}, "axis": null},
            "y": {"datum": 100, "type": "quantitative", "scale": {"domain": [0, 100], "nice": false}, "axis": null},
            "text": {"value": "OsMA(12,26,9) -0.91099  Stoch(5,3,3) 69.9061 45.8991  RSI(14) 48.1302"}
          }
        },
        {
          "mark": {"type": "rect", "color": "#6f6f6f", "opacity": 0.72},
          "encoding": {
            "x": {"datum": 1684627200000, "type": "temporal", "scale": {"type": "utc", "domain": [1684627200000, 1812844800000]}, "axis": null},
            "x2": {"datum": 1711843200000},
            "y": {"datum": 41, "type": "quantitative", "scale": {"domain": [0, 100], "nice": false}, "axis": null},
            "y2": {"datum": -28}
          }
        },
        {
          "mark": {"type": "text", "align": "center", "baseline": "middle", "font": "DejaVu Sans", "fontSize": 34, "color": "white", "opacity": 0.9},
          "encoding": {
            "x": {"datum": 1688407200000, "type": "temporal", "scale": {"type": "utc", "domain": [1684627200000, 1812844800000]}, "axis": null},
            "y": {"datum": 9, "type": "quantitative", "scale": {"domain": [0, 100], "nice": false}, "axis": null},
            "text": {"value": "⚙"}
          }
        },
        {
          "mark": {"type": "text", "align": "center", "baseline": "middle", "fontSize": 28, "color": "white", "opacity": 0.9},
          "encoding": {
            "x": {"datum": 1701259200000, "type": "temporal", "scale": {"type": "utc", "domain": [1684627200000, 1812844800000]}, "axis": null},
            "y": {"datum": 12, "type": "quantitative", "scale": {"domain": [0, 100], "nice": false}, "axis": null},
            "text": {"value": "instaforex"}
          }
        },
        {
          "mark": {"type": "text", "align": "center", "baseline": "middle", "fontSize": 10.5, "color": "white", "opacity": 0.9},
          "encoding": {
            "x": {"datum": 1699596000000, "type": "temporal", "scale": {"type": "utc", "domain": [1684627200000, 1812844800000]}, "axis": null},
            "y": {"datum": -15, "type": "quantitative", "scale": {"domain": [0, 100], "nice": false}, "axis": null},
            "text": {"value": "Instant Forex Trading"}
          }
        }
      ]
    },
    {
      "width": 848,
      "height": 1,
      "view": {"stroke": null},
      "data": {"name": "sep"},
      "mark": {"type": "rule", "opacity": 0},
      "encoding": {
        "x": {"field": "d", "type": "temporal", "scale": {"type": "utc", "domain": [1684627200000, 1812844800000]},
          "axis": {"values": [{"year": 2023, "month": 5, "date": 21, "utc": true}, {"year": 2023, "month": 9, "date": 10, "utc": true}, {"year": 2023, "month": 12, "date": 31, "utc": true}, {"year": 2024, "month": 4, "date": 21, "utc": true}, {"year": 2024, "month": 8, "date": 11, "utc": true}, {"year": 2024, "month": 12, "date": 1, "utc": true}, {"year": 2025, "month": 3, "date": 23, "utc": true}, {"year": 2025, "month": 7, "date": 13, "utc": true}, {"year": 2025, "month": 11, "date": 2, "utc": true}, {"year": 2026, "month": 2, "date": 22, "utc": true}, {"year": 2026, "month": 6, "date": 14, "utc": true}], "labelExpr": "utcFormat(datum.value, '%-d %b %Y')", "labelAlign": "left", "labelPadding": 2, "ticks": false, "domain": false, "grid": false, "labelFontSize": 10, "labelFont": "Liberation Sans", "labelColor": "black", "labelOverlap": false, "labelFlush": false, "labelBound": false, "title": null}}
      }
    }
  ]
}
